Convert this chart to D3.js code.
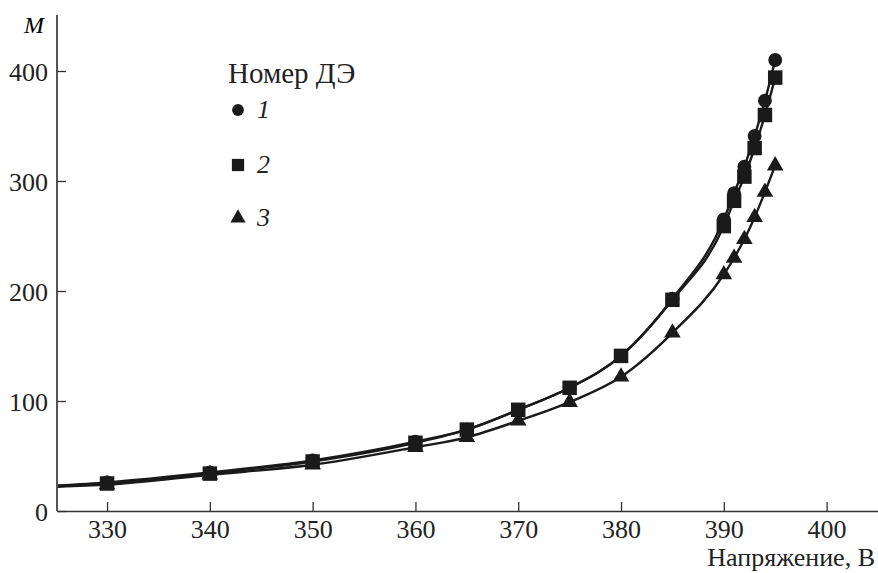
<!DOCTYPE html>
<html>
<head>
<meta charset="utf-8">
<script src="https://cdn.jsdelivr.net/npm/d3@7"></script>
</head>
<body style="margin:0">
<script>
var w = 878;
var h = 573;

// voltage, V
var voltage = [330, 340, 350, 360, 365, 370, 375, 380, 385, 390, 391, 392, 393, 394, 395];
// multiplication factor M for each detector element
var m1 = [26, 35, 46, 63, 74, 92, 112, 141, 193, 265, 289, 313, 341, 373, 410];
var m2 = [25, 34, 45, 62, 74, 92, 112, 141, 192, 259, 282, 304, 330, 360, 394];
var m3 = [24, 33, 42, 58, 67, 82, 99, 122, 162, 215, 230, 247, 267, 290, 314];
// line runs on past the axis at the left edge
var leftVoltage = 325;
var leftM = [23, 22.5, 22];

var xTicks = [330, 340, 350, 360, 370, 380, 390, 400];
var yTicks = [0, 100, 200, 300, 400];
var seriesNames = ["1", "2", "3"];
var symbols = [d3.symbolCircle, d3.symbolSquare, d3.symbolTriangle];
var symbolSizes = [150, 210, 120];

var xScale = d3.scaleLinear()
  .domain([325.13, 405])
  .range([57, 878]);
var yScale = d3.scaleLinear()
  .domain([0, 400])
  .range([511, 71]);

var svg = d3.select("body")
  .append("svg")
  .attr("width", w)
  .attr("height", h)
  .attr("font-family", "Liberation Serif");

//axes, ticks pointing inwards
var xAxis = svg.append("g")
  .attr("transform", "translate(0,511)")
  .call(d3.axisBottom(xScale).tickValues(xTicks).tickSizeInner(-9).tickSizeOuter(0))
  .attr("font-family", "Liberation Serif")
  .attr("font-size", 26);
xAxis.select(".domain").attr("stroke", "#333").attr("stroke-width", 1.6);
xAxis.selectAll(".tick line").attr("stroke", "#333").attr("stroke-width", 1.3);
xAxis.selectAll(".tick text")
  .attr("y", 27).attr("dy", 0)
  .attr("fill", "#222");

var yAxis = svg.append("g")
  .attr("transform", "translate(57,0)")
  .call(d3.axisLeft(yScale).tickValues(yTicks).tickSizeInner(-9).tickSizeOuter(0))
  .attr("font-family", "Liberation Serif")
  .attr("font-size", 26);
yAxis.select(".domain").attr("d", "M0,15V511").attr("stroke", "#555").attr("stroke-width", 2);
yAxis.selectAll(".tick line").attr("stroke", "#333").attr("stroke-width", 1.3);
yAxis.selectAll(".tick text")
  .attr("x", -9).attr("dy", 9)
  .attr("fill", "#222");

svg.append("text")
  .attr("x", 44).attr("y", 33)
  .attr("text-anchor", "end")
  .attr("font-size", 24)
  .attr("font-style", "italic")
  .text("M");

svg.append("text")
  .attr("x", 875).attr("y", 566)
  .attr("text-anchor", "end")
  .attr("font-size", 26)
  .attr("fill", "#222")
  .text("Напряжение, В");

//lines
svg.append("clipPath").attr("id", "clip")
  .append("rect").attr("x", 58).attr("y", 0).attr("width", w).attr("height", 510);

var line = d3.line()
  .x(function(d) { return xScale(d[0]); })
  .y(function(d) { return yScale(d[1]); })
  .curve(d3.curveMonotoneX);

var allSeries = [m1, m2, m3];
allSeries.forEach(function(s, k) {
  var pts = [[leftVoltage, leftM[k]]].concat(voltage.map(function(v, i) { return [v, s[i]]; }));
  svg.append("path")
    .attr("clip-path", "url(#clip)")
    .attr("d", line(pts))
    .attr("fill", "none")
    .attr("stroke", "#1a1a1a")
    .attr("stroke-width", 2.4);
});

//markers, triangles first so squares and circles sit on top
[2, 0, 1].forEach(function(k) {
  svg.append("g").selectAll("path")
    .data(allSeries[k])
    .enter()
    .append("path")
    .attr("d", d3.symbol().type(symbols[k]).size(symbolSizes[k]))
    .attr("transform", function(d, i) {
      return "translate(" + xScale(voltage[i]) + "," + yScale(d) + ")";
    })
    .attr("fill", "#1a1a1a");
});

//legend
svg.append("text")
  .attr("x", 228).attr("y", 83)
  .attr("font-size", 29)
  .attr("fill", "#222")
  .text("Номер ДЭ");

var legendY = [110, 165, 218];
var legendSizes = [110, 150, 100];
seriesNames.forEach(function(name, k) {
  var ly = legendY[k];
  svg.append("path")
    .attr("d", d3.symbol().type(symbols[k]).size(legendSizes[k]))
    .attr("transform", "translate(238," + ly + ")")
    .attr("fill", "#1a1a1a");
  svg.append("text")
    .attr("x", 257).attr("y", ly + 8)
    .attr("font-size", 26)
    .attr("font-style", "italic")
    .attr("fill", "#222")
    .text(name);
});
</script>
</body>
</html>
